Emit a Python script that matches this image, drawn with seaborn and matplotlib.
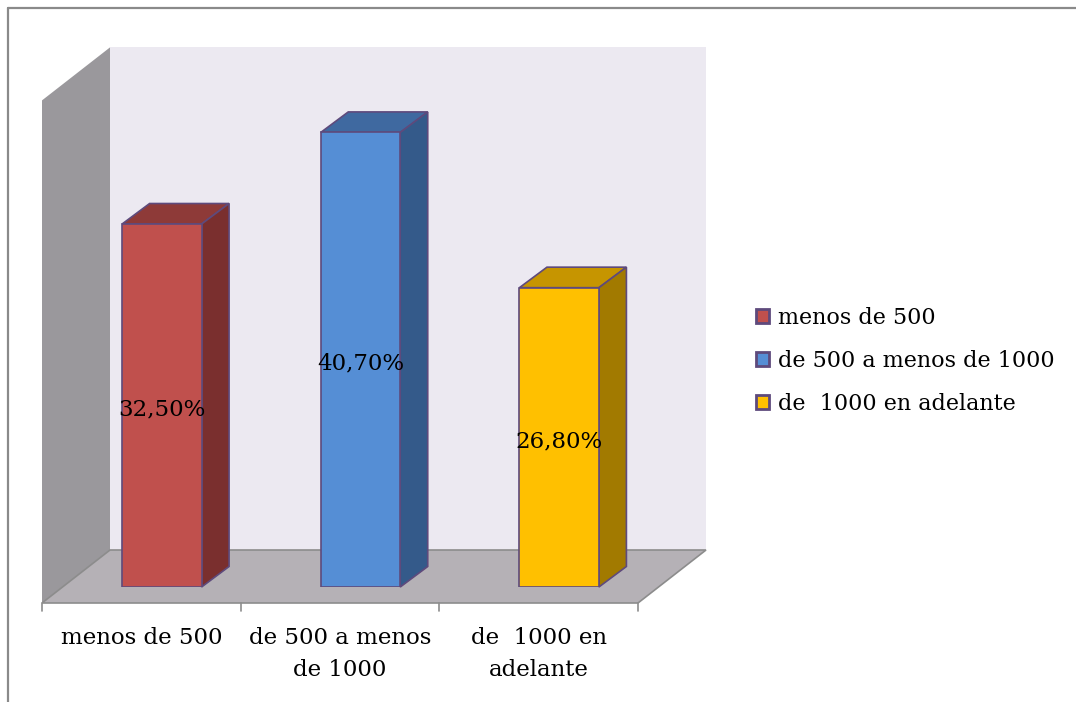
import numpy as np
import matplotlib
matplotlib.use("Agg")
import matplotlib.pyplot as plt
from matplotlib.patches import Polygon
from matplotlib.lines import Line2D
from matplotlib.transforms import IdentityTransform, ScaledTranslation
import seaborn as sns

# Data
categorias = ["menos de 500", "de 500 a menos de 1000", "de  1000 en adelante"]
etiquetas_eje = ["menos de 500", "de 500 a menos\nde 1000", "de  1000 en\nadelante"]
valores = [32.5, 40.7, 26.8]

# Colours: front / top / side faces of each column
color_frente = ["#C0504D", "#558ED5", "#FFC000"]
color_tapa = ["#8E3A38", "#3F69A0", "#C69500"]
color_lado = ["#7A2F2E", "#345A8A", "#A27A00"]
borde = "#5E4A7C"

sns.set_theme(style="white")
plt.rcParams["font.family"] = ["DejaVu Serif", "DejaVu Sans"]
plt.rcParams["text.color"] = "black"

DPI = 100
W, H = 1076, 702
fig = plt.figure(figsize=(W / DPI, H / DPI), dpi=DPI)
fig.patch.set_facecolor("white")

# Axes = the plane where the front faces of the columns stand
ax = fig.add_axes([62.5 / W, 115 / H, 596 / W, 502.6 / H])
ax.patch.set_visible(False)

sns.barplot(x=categorias, y=valores, hue=categorias, palette=color_frente,
            width=0.4, edgecolor=borde, linewidth=1.2, saturation=1,
            legend=False, ax=ax, zorder=3)
ax.set_xlim(-0.5, 2.5)
ax.set_ylim(0, 45)
ax.set_yticks([])
ax.set_ylabel("")
ax.set_xlabel("")
for s in ax.spines.values():
    s.set_visible(False)

# Depth offsets (display pixels) relative to the column plane
FRENTE = np.array([-20.5, -16.0])
FONDO = np.array([47.5, 37.0])
PROF_BARRA = np.array([27.5, 20.5])


def px(x, y, off=(0.0, 0.0)):
    return ax.transData.transform((x, y)) + np.asarray(off)


def cara(puntos, fc, ec="none", lw=0.0, z=1):
    p = Polygon(puntos, closed=True, facecolor=fc, edgecolor=ec, linewidth=lw,
                transform=IdentityTransform(), clip_on=False, zorder=z)
    ax.add_artist(p)


x0, x1 = ax.get_xlim()
y0, y1 = ax.get_ylim()

# Back wall
cara([px(x0, y0, FONDO), px(x1, y0, FONDO), px(x1, y1, FONDO), px(x0, y1, FONDO)],
     "#ECE9F1", z=0.1)
# Left side wall
cara([px(x0, y0, FRENTE), px(x0, y1, FRENTE), px(x0, y1, FONDO), px(x0, y0, FONDO)],
     "#9A989C", z=0.2)
# Floor
cara([px(x0, y0, FRENTE), px(x1, y0, FRENTE), px(x1, y0, FONDO), px(x0, y0, FONDO)],
     "#B5B1B6", ec="#8C8C8C", lw=1.2, z=0.3)

# Top and side faces of each column, built from the bars seaborn drew
barras = [c[0] for c in ax.containers]
for i, b in enumerate(barras):
    bx0 = b.get_x()
    bx1 = bx0 + b.get_width()
    h = b.get_height()
    cara([px(bx0, h), px(bx1, h), px(bx1, h, PROF_BARRA), px(bx0, h, PROF_BARRA)],
         color_tapa[i], ec=borde, lw=1.2, z=2)
    cara([px(bx1, 0), px(bx1, h), px(bx1, h, PROF_BARRA), px(bx1, 0, PROF_BARRA)],
         color_lado[i], ec=borde, lw=1.2, z=2)

# Value labels centred on the front faces
for i, cont in enumerate(ax.containers):
    ax.bar_label(cont, labels=[f"{valores[i]:.2f}%".replace(".", ",")],
                 label_type="center", padding=-3, fontsize=16.5, color="black",
                 zorder=5)

# Category labels on the front edge of the floor
ax.set_xticks(range(len(categorias)))
ax.set_xticklabels(etiquetas_eje, fontsize=16.5, linespacing=1.55, color="black")
ax.tick_params(axis="x", length=0, pad=29)
desplazar = ScaledTranslation(FRENTE[0] / DPI, 0, fig.dpi_scale_trans)
for lab in ax.get_xticklabels():
    lab.set_transform(lab.get_transform() + desplazar)

# Tick marks at the category boundaries of the floor's front edge
for xb in np.arange(x0, x1 + 0.01, 1.0):
    p = px(xb, y0, FRENTE)
    ax.add_artist(Line2D([p[0], p[0]], [p[1], p[1] - 8], color="#8C8C8C",
                         linewidth=1.2, transform=IdentityTransform(), clip_on=False))

# Legend
leg = ax.legend(handles=barras, labels=categorias, loc="center left",
                bbox_to_anchor=(756 / W, 1 - 361 / H), bbox_transform=fig.transFigure,
                frameon=False, fontsize=16, handlelength=0.6, handleheight=0.6,
                handletextpad=0.4, labelspacing=0.95, borderpad=0, borderaxespad=0,
                labelcolor="black")
for hnd in leg.legend_handles:
    hnd.set_linewidth(2.0)

# Chart frame
fig.add_artist(Line2D([8 / W, 1], [1 - 8 / H, 1 - 8 / H], color="#8A8A8A",
                      linewidth=1.6, transform=fig.transFigure))
fig.add_artist(Line2D([8 / W, 8 / W], [0, 1 - 8 / H], color="#8A8A8A",
                      linewidth=1.6, transform=fig.transFigure))

fig.savefig("out.png", dpi=DPI)
